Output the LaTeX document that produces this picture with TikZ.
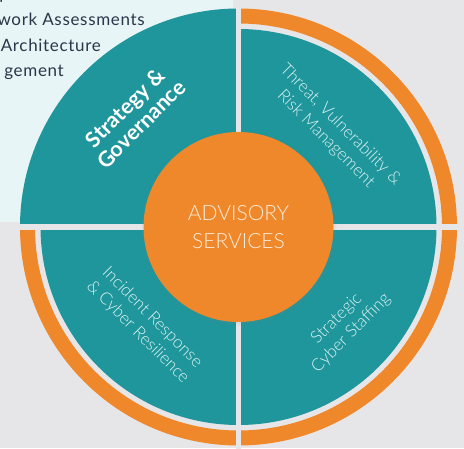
\documentclass[tikz,border=0pt]{standalone}
\usepackage{fontspec}
\setmainfont{Lato}
\newfontfamily\lightfont{Lato Light}
\usetikzlibrary{shadows}
\definecolor{bggray}{HTML}{E6E6E9}
\definecolor{panelc}{HTML}{E7F5F7}
\definecolor{tealq}{HTML}{1E969B}
\definecolor{orangeq}{HTML}{EF882B}
\definecolor{navyt}{HTML}{283848}
\definecolor{labelc}{HTML}{DDF3F3}
\definecolor{advc}{HTML}{FCEBD9}
\tikzset{
  paneltext/.style={anchor=base east, text=navyt, font=\fontsize{17}{17}\selectfont\addfontfeature{LetterSpace=4}, inner sep=0pt},
  quadlabel/.style={text=labelc, font=\lightfont\fontsize{17}{20.5}\selectfont, align=center, inner sep=0pt},
  gapline/.style={draw=bggray, line width=5.5pt},
}
\begin{document}
\begin{tikzpicture}[x=1pt,y=1pt]
\useasboundingbox (0,0) rectangle (464,448);
\clip (0,0) rectangle (464,448);
\fill[bggray] (0,0) rectangle (464,448);
\fill[panelc] (0,226.3) rectangle (233,448);
\node[paneltext] (p1) at (9,448.5) {p};
\node[paneltext] (p2) at (145,422) {work Assessments};
\node[paneltext] (p3) at (101,396) {Architecture};
\node[paneltext] (p4) at (64,371) {gement};
\coordinate (c) at (238.5,221);
% teal quadrants
\fill[tealq] (c) circle[radius=198];
\fill[tealq] (c) -- ++(0,218.5) arc[start angle=90,end angle=180,radius=218.5] -- cycle;
% orange ring
\draw[orangeq, line width=15pt] (c) ++(0,211) arc[start angle=90,end angle=-180,radius=211];
% gaps
\draw[gapline] (c) ++(0,-225) -- ++(0,450);
\draw[gapline] (c) ++(-225,0) -- ++(450,0);
% labels
\node[text=white, font=\bfseries\fontsize{21.5}{23}\selectfont, align=center, inner sep=0pt, rotate=45] (sg) at (133,332) {Strategy \&\\Governance};
\node[quadlabel, rotate=-45] (tv) at (333,316) {Threat, Vulnerability \&\\Risk Management};
\node[quadlabel, rotate=-45] (ir) at (145,123) {Incident Response\\\& Cyber Resilience};
\node[quadlabel, rotate=45] (sc) at (344,122) {Strategic\\Cyber Staffing};
% center
\node[circle, fill=orangeq, minimum size=190pt, inner sep=0pt,
      circular drop shadow={shadow xshift=0pt, shadow yshift=-1pt, shadow scale=1.04, opacity=0.35},
      text=advc, font=\lightfont\fontsize{21}{28}\selectfont, align=center] (adv) at (c) {ADVISORY\\SERVICES};
\end{tikzpicture}
\end{document}
